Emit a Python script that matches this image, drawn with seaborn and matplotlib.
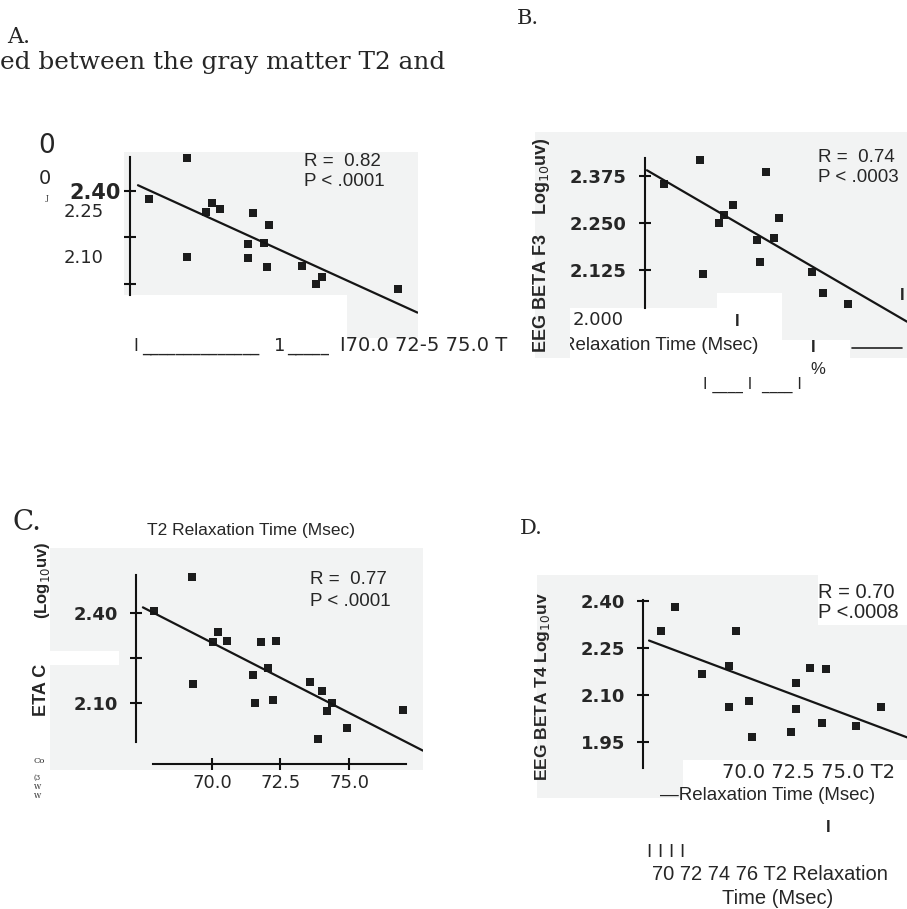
import matplotlib
matplotlib.use("Agg")
import matplotlib.pyplot as plt
from matplotlib.patches import Rectangle
from matplotlib.lines import Line2D
import seaborn as sns

# T2 relaxation time (msec) vs EEG beta amplitude (log10 uV)
a_t2 = [69.1, 67.7, 69.8, 70.0, 70.3, 71.5, 72.1, 69.1, 71.3, 71.9, 71.3, 72.0, 73.3, 74.0, 73.8, 76.8]
a_beta = [2.506, 2.374, 2.332, 2.361, 2.342, 2.329, 2.290, 2.187, 2.229, 2.232, 2.184, 2.155, 2.158, 2.123, 2.100, 2.084]

b_t2 = [69.0, 67.7, 71.4, 70.2, 69.9, 69.7, 71.9, 71.1, 71.7, 71.2, 69.1, 73.1, 73.5, 74.4]
b_beta = [2.418, 2.354, 2.386, 2.298, 2.271, 2.250, 2.263, 2.205, 2.210, 2.146, 2.114, 2.120, 2.064, 2.035]

c_t2 = [69.27, 67.88, 70.22, 70.04, 70.55, 71.79, 72.34, 72.04, 71.50, 69.31,
        71.57, 72.23, 73.58, 74.01, 74.38, 74.20, 74.93, 73.87, 76.97]
c_beta = [2.520, 2.407, 2.337, 2.303, 2.307, 2.303, 2.307, 2.217, 2.193, 2.163,
          2.100, 2.110, 2.170, 2.140, 2.100, 2.073, 2.017, 1.980, 2.077]

d_t2 = [67.66, 68.17, 70.39, 69.15, 70.14, 70.14, 70.87, 70.98, 72.58, 73.10, 73.68, 72.58, 73.53, 72.40, 74.77, 75.69]
d_beta = [2.304, 2.381, 2.304, 2.167, 2.193, 2.062, 2.081, 1.966, 2.138, 2.186, 2.183, 2.055, 2.011, 1.982, 2.001, 2.062]

a_yticks = [2.40, 2.25, 2.10]
b_yticks = [2.375, 2.250, 2.125]
b_ylabels = ["2.375", "2.250", "2.125"]
c_yticks = [2.40, 2.25, 2.10]
c_ylabels = ["2.40", "", "2.10"]
c_xticks = [70.0, 72.5, 75.0]
c_xlabels = ["70.0", "72.5", "75.0"]
d_yticks = [2.40, 2.25, 2.10, 1.95]
d_ylabels = ["2.40", "2.25", "2.10", "1.95"]

a_stats = ["R =  0.82", "P < .0001"]
b_stats = ["R =  0.74", "P < .0003"]
c_stats = ["R =  0.77", "P < .0001"]
d_stats = ["R = 0.70", "P <.0008"]

sns.set_style("white")
plt.rcParams["font.family"] = ["Liberation Sans", "DejaVu Sans"]

W, H = 907, 909
BG = "#f2f3f3"
fig = plt.figure(figsize=(W / 100, H / 100), dpi=100)


def box(l, t, r, b):
    return [l / W, 1 - b / H, (r - l) / W, (b - t) / H]


def txt(x, y, s, **kw):
    kw.setdefault("va", "center")
    fig.text(x / W, 1 - y / H, s, **kw)


def shade(l, t, r, b, color=BG, z=0):
    fig.add_artist(Rectangle((l / W, 1 - b / H), (r - l) / W, (b - t) / H,
                             transform=fig.transFigure, facecolor=color,
                             edgecolor="none", zorder=z))


def panel(rect, t2, beta, xlim, ylim, fit_range, spine_x, spine_y, yticks, ylabels, pad=8.5):
    ax = fig.add_axes(box(*rect))
    ax.set_facecolor("none")
    # fit line runs from the y axis to the right edge
    ax.set_xlim(*fit_range)
    sns.regplot(x=t2, y=beta, scatter=False, ci=None, truncate=False,
                color="#151515", line_kws={"lw": 1.6}, ax=ax)
    sns.scatterplot(x=t2, y=beta, marker="s", s=40, color="#1c1c1c", linewidth=0, ax=ax)
    ax.set_xlim(*xlim)
    ax.set_ylim(*ylim)
    for s in ["top", "right", "bottom"]:
        ax.spines[s].set_visible(False)
    ax.spines["left"].set_position(("data", spine_x))
    ax.spines["left"].set_bounds(*spine_y)
    ax.spines["left"].set_linewidth(1.5)
    ax.spines["left"].set_color("#111111")
    ax.set_yticks(yticks, ylabels)
    ax.set_xticks([])
    ax.tick_params(axis="y", left=True, direction="inout", length=9, width=1.5, pad=pad,
                   labelsize=13, color="#111111")
    plt.setp(ax.get_yticklabels(), fontfamily="DejaVu Sans", fontweight="bold")
    ax.set_xlabel("")
    ax.set_ylabel("")
    return ax


# gray scan backgrounds
shade(124, 152, 418, 295)
shade(347, 295, 418, 338)
shade(535, 132, 907, 308)
shade(782, 293, 907, 340)
shade(850, 340, 907, 358)
shade(50, 548, 423, 770)
shade(537, 575, 818, 760)
shade(818, 625, 907, 760)
shade(537, 760, 683, 798)

# A
ax_a = panel((124, 150, 418, 340), a_t2, a_beta, (66.79, 77.52), (1.919, 2.532),
             (67.3, 77.5), 67.0, (2.065, 2.510), a_yticks, ["2.40", "", ""], pad=2)
plt.setp(ax_a.get_yticklabels(), fontsize=15)
txt(7, 37, "A.", fontfamily="DejaVu Serif", fontsize=16)
txt(0, 62, "ed between the gray matter T2 and", fontfamily="DejaVu Serif", fontsize=17.8)
txt(47, 146, "0", fontfamily="DejaVu Sans", fontsize=19, ha="center")
txt(45, 178, "0", fontfamily="DejaVu Sans", fontsize=14, ha="center")
txt(47, 198, "J", fontfamily="DejaVu Serif", fontsize=5, ha="center")
txt(64, 212, "2.25", fontfamily="DejaVu Sans", fontsize=13)
txt(64, 258, "2.10", fontfamily="DejaVu Sans", fontsize=13)
txt(304, 162, a_stats[0], fontsize=13.5)
txt(304, 182, a_stats[1], fontsize=13.5)
txt(133, 351, "I", fontfamily="DejaVu Sans", fontsize=12, va="baseline")
txt(142, 351, "______________", fontfamily="DejaVu Sans", fontsize=12, va="baseline")
txt(274, 351, "1", fontfamily="DejaVu Sans", fontsize=13, va="baseline")
txt(287, 351, "_____", fontfamily="DejaVu Sans", fontsize=12, va="baseline")
txt(340, 351, "I70.0 72-5 75.0 T", fontfamily="DejaVu Sans", fontsize=14, va="baseline")

# B
panel((535, 132, 907, 340), b_t2, b_beta, (62.985, 76.56), (1.939, 2.492),
      (67.07, 76.56), 67.0, (2.024, 2.423), b_yticks, b_ylabels)
txt(517, 18, "B.", fontfamily="DejaVu Serif", fontsize=15)
txt(818, 158, b_stats[0], fontsize=13.5)
txt(818, 178, b_stats[1], fontsize=13.5)
shade(717, 293, 782, 358, color="white", z=1)
txt(573, 320, "2.000", fontfamily="DejaVu Sans", fontsize=13)
txt(562, 345, "Relaxation Time (Msec)", fontsize=13.5)
shade(535, 308, 570, 358, z=4)
txt(542, 245, "EEG BETA F3    Log$_{10}$uv)", fontsize=13, fontweight="bold",
    rotation=90, ha="center", zorder=5)
txt(737, 322, "I", fontsize=12, fontweight="bold", ha="center", zorder=5)
txt(813, 347, "I", fontsize=12, fontweight="bold", ha="center")
txt(902, 296, "I", fontsize=12, fontweight="bold", ha="center")
txt(818, 370, "%", fontsize=12, ha="center")
txt(703, 385, "I ____ I  ____ I", fontfamily="DejaVu Sans", fontsize=11)
fig.add_artist(Line2D([852 / W, 902 / W], [1 - 348 / H, 1 - 348 / H],
                      transform=fig.transFigure, color="#222222", lw=1.2))

# C
ax_c = panel((50, 548, 423, 770), c_t2, c_beta, (64.09, 77.70), (1.877, 2.617),
             (67.48, 77.70), 67.226, (1.970, 2.527), c_yticks, c_ylabels)
ax_c.spines["bottom"].set_visible(True)
ax_c.spines["bottom"].set_position(("data", 1.897))
ax_c.spines["bottom"].set_bounds(67.85, 77.08)
ax_c.spines["bottom"].set_linewidth(1.5)
ax_c.spines["bottom"].set_color("#111111")
ax_c.set_xticks(c_xticks, c_xlabels)
ax_c.tick_params(axis="x", bottom=True, direction="inout", length=9, width=1.5, pad=3,
                 labelsize=13, color="#111111")
plt.setp(ax_c.get_xticklabels(), fontfamily="DejaVu Sans")
txt(13, 522, "C.", fontfamily="DejaVu Serif", fontsize=20)
txt(147, 530, "T2 Relaxation Time (Msec)", fontsize=12.5)
txt(310, 580, c_stats[0], fontsize=13.5)
txt(310, 602, c_stats[1], fontsize=13.5)
txt(42, 580, "(Log$_{10}$uv)", fontsize=12, fontweight="bold", rotation=90, ha="center")
txt(42, 690, "ETA C", fontsize=13, fontweight="bold", rotation=90, ha="center")
shade(33, 651, 119, 665, color="white", z=4)
txt(33, 761, "Co", fontfamily="DejaVu Serif", fontsize=6)
txt(33, 778, "(3", fontfamily="DejaVu Serif", fontsize=5)
txt(34, 787, "W", fontfamily="DejaVu Serif", fontsize=5)
txt(34, 796, "W", fontfamily="DejaVu Serif", fontsize=5)

# D
panel((537, 575, 907, 800), d_t2, d_beta, (63.13, 76.64), (1.765, 2.483),
      (67.22, 76.64), 67.0, (1.867, 2.403), d_yticks, d_ylabels)
txt(520, 528, "D.", fontfamily="DejaVu Serif", fontsize=15)
txt(818, 592, d_stats[0], fontsize=14.5)
txt(818, 613, d_stats[1], fontsize=14.5)
txt(543, 687, "EEG BETA T4 Log$_{10}$uv", fontsize=12.5, fontweight="bold",
    rotation=90, ha="center")
txt(722, 773, "70.0 72.5 75.0 T2", fontfamily="DejaVu Sans", fontsize=14)
txt(660, 795, "\u2014Relaxation Time (Msec)", fontsize=13.5)
txt(828, 828, "I", fontsize=12, fontweight="bold", ha="center")
txt(647, 852, "I I I I", fontfamily="DejaVu Sans", fontsize=13)
txt(652, 875, "70 72 74 76 T2 Relaxation", fontsize=14.5)
txt(722, 898, "Time (Msec)", fontsize=14.5)

fig.savefig("out.png", dpi=100)
